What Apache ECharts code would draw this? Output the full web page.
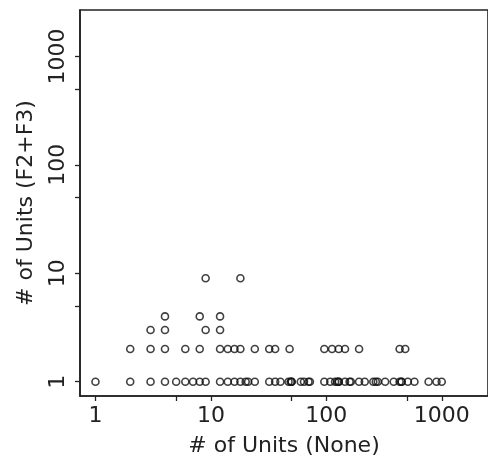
<!DOCTYPE html>
<html>
<head>
<meta charset="utf-8">
<script src="https://cdn.jsdelivr.net/npm/echarts@6/dist/echarts.min.js"></script>
<style>html,body{margin:0;padding:0;background:#fff}#c{width:488px;height:462px}</style>
</head>
<body>
<div id="c"></div>
<script>
// Points (x = # of Units (None), y = # of Units (F2+F3))
var row1X = [1, 2, 3, 4, 5, 6, 7, 8, 9, 12, 14, 16, 18, 20, 21, 24, 32, 36, 40, 47, 49, 50, 50, 60, 64, 70, 72, 96, 108, 119, 124, 128, 128, 145, 159, 163, 192, 215, 255, 268, 279, 323, 383, 431, 448, 448, 508, 579, 768, 899, 998];
var row2X = [2, 3, 4, 6, 8, 12, 14, 16, 18, 24, 32, 36, 48, 96, 112, 128, 145, 192, 431, 482];
var row3X = [3, 4, 9, 12];
var row4X = [4, 8, 12];
var row9X = [9, 18];
var rowY = [1, 2, 3, 4, 9];
var tickLabels = [1, 10, 100, 1000];
var minorTicks = [1, 5, 10, 50, 100, 500, 1000];

var rows = [row1X, row2X, row3X, row4X, row9X];
var pts = [];
rows.forEach(function (xs, i) {
  xs.forEach(function (x) { pts.push([Math.log10(x), Math.log10(rowY[i])]); });
});
var lg = function (v) { return Math.log10(v); };
var fmt = function (v) { return String(Math.round(Math.pow(10, v))); };

var textColor = '#222';
var font = 'DejaVu Sans';
var chart = echarts.init(document.getElementById('c'), null, {renderer: 'canvas'});
chart.setOption({
  animation: false,
  backgroundColor: '#fff',
  grid: {left: 80, top: 10, width: 412.8, height: 387.7, show: true, borderColor: '#222', borderWidth: 1.6, backgroundColor: 'transparent'},
  xAxis: {
    type: 'value', min: -0.134, max: 3.4,
    name: '# of Units (None)', nameLocation: 'middle', nameGap: 39,
    nameTextStyle: {fontFamily: font, fontSize: 22, color: textColor},
    axisLine: {show: true, onZero: false, lineStyle: {color: '#222', width: 1.6}},
    axisTick: {show: true, length: 5, inside: false, customValues: minorTicks.map(lg), lineStyle: {color: '#222', width: 1.3}},
    axisLabel: {customValues: tickLabels.map(lg), formatter: fmt, margin: 9, fontFamily: font, fontSize: 22, color: textColor},
    splitLine: {show: false}
  },
  yAxis: {
    type: 'value', min: -0.132, max: 3.428,
    name: '# of Units (F2+F3)', nameLocation: 'middle', nameGap: 43, nameRotate: 90,
    nameTextStyle: {fontFamily: font, fontSize: 22, color: textColor},
    axisLine: {show: true, onZero: false, lineStyle: {color: '#222', width: 1.6}},
    axisTick: {show: true, length: 5, inside: false, customValues: minorTicks.map(lg), lineStyle: {color: '#222', width: 1.3}},
    axisLabel: {customValues: tickLabels.map(lg), formatter: fmt, rotate: 90, margin: 11, fontFamily: font, fontSize: 22, color: textColor},
    splitLine: {show: false}
  },
  series: [{
    type: 'scatter',
    data: pts,
    symbol: 'circle',
    symbolSize: 7,
    itemStyle: {color: 'transparent', borderColor: '#111', borderWidth: 1.6},
    emphasis: {disabled: true}
  }]
});
</script>
</body>
</html>
